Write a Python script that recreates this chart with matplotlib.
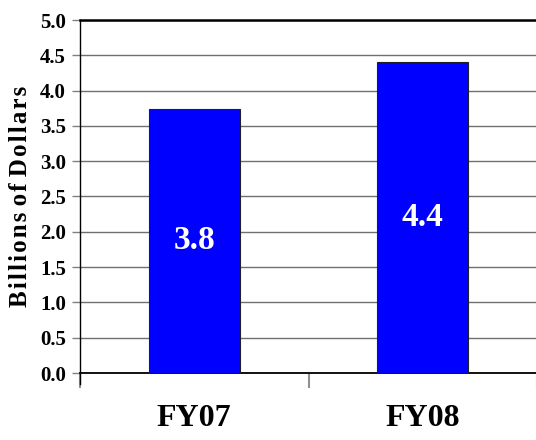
import numpy as np
import matplotlib
matplotlib.use("Agg")
import matplotlib.pyplot as plt

# %% Data
categories = ["FY07", "FY08"]
values = [3.74, 4.40]
value_labels = ["3.8", "4.4"]
y_ticks = [0.0, 0.5, 1.0, 1.5, 2.0, 2.5, 3.0, 3.5, 4.0, 4.5, 5.0]

SERIF = ["Liberation Serif", "DejaVu Serif"]
BAR_COLOUR = "#0000FF"

# %% Plot
fig = plt.figure(figsize=(5.36, 4.40), dpi=100)
ax = fig.add_axes([80 / 536, 1 - 373 / 440, 457 / 536, 353 / 440])

x = np.arange(len(categories))
ax.bar(x, values, width=0.40, color=BAR_COLOUR, edgecolor="#202020",
       linewidth=0.8, zorder=3)

# value labels sit in the middle of each bar
for xi, v, lab in zip(x, values, value_labels):
    ax.text(xi, v / 2, lab, ha="center", va="center", color="white",
            fontsize=24, fontweight="bold", family=SERIF, zorder=4)

ax.set_xlim(-0.5, 1.5)
ax.set_ylim(0, 5.0)
ax.set_yticks(y_ticks)
ax.set_yticklabels([f"{t:.1f}" for t in y_ticks], family=SERIF,
                   fontsize=15, fontweight="bold")
ax.set_xticks([-0.5, 0.5, 1.5])
ax.set_xticklabels([])
ax.tick_params(axis="y", length=6, width=1, color="#808080", pad=4)
ax.tick_params(axis="x", length=11, width=1.5, color="#909090")

for xi, cat in zip(x, categories):
    ax.text(xi, -0.64, cat, ha="center", va="center", fontsize=23,
            fontweight="bold", family=SERIF)

ax.grid(axis="y", color="#707070", linewidth=1.0, zorder=0)
ax.set_axisbelow(True)
ax.spines["right"].set_visible(False)
ax.spines["top"].set_linewidth(1.8)
ax.spines["bottom"].set_linewidth(1.3)
ax.spines["left"].set_linewidth(1.0)
ax.spines["left"].set_bounds(-0.15, 5.0)

# letter-spaced axis title, as in the original
spaced = " ".join("\u200a".join(w) for w in "Billions of Dollars".split())
ax.set_ylabel(spaced, family=SERIF, fontsize=18, fontweight="bold", labelpad=6)

fig.savefig("out.png", dpi=100)
